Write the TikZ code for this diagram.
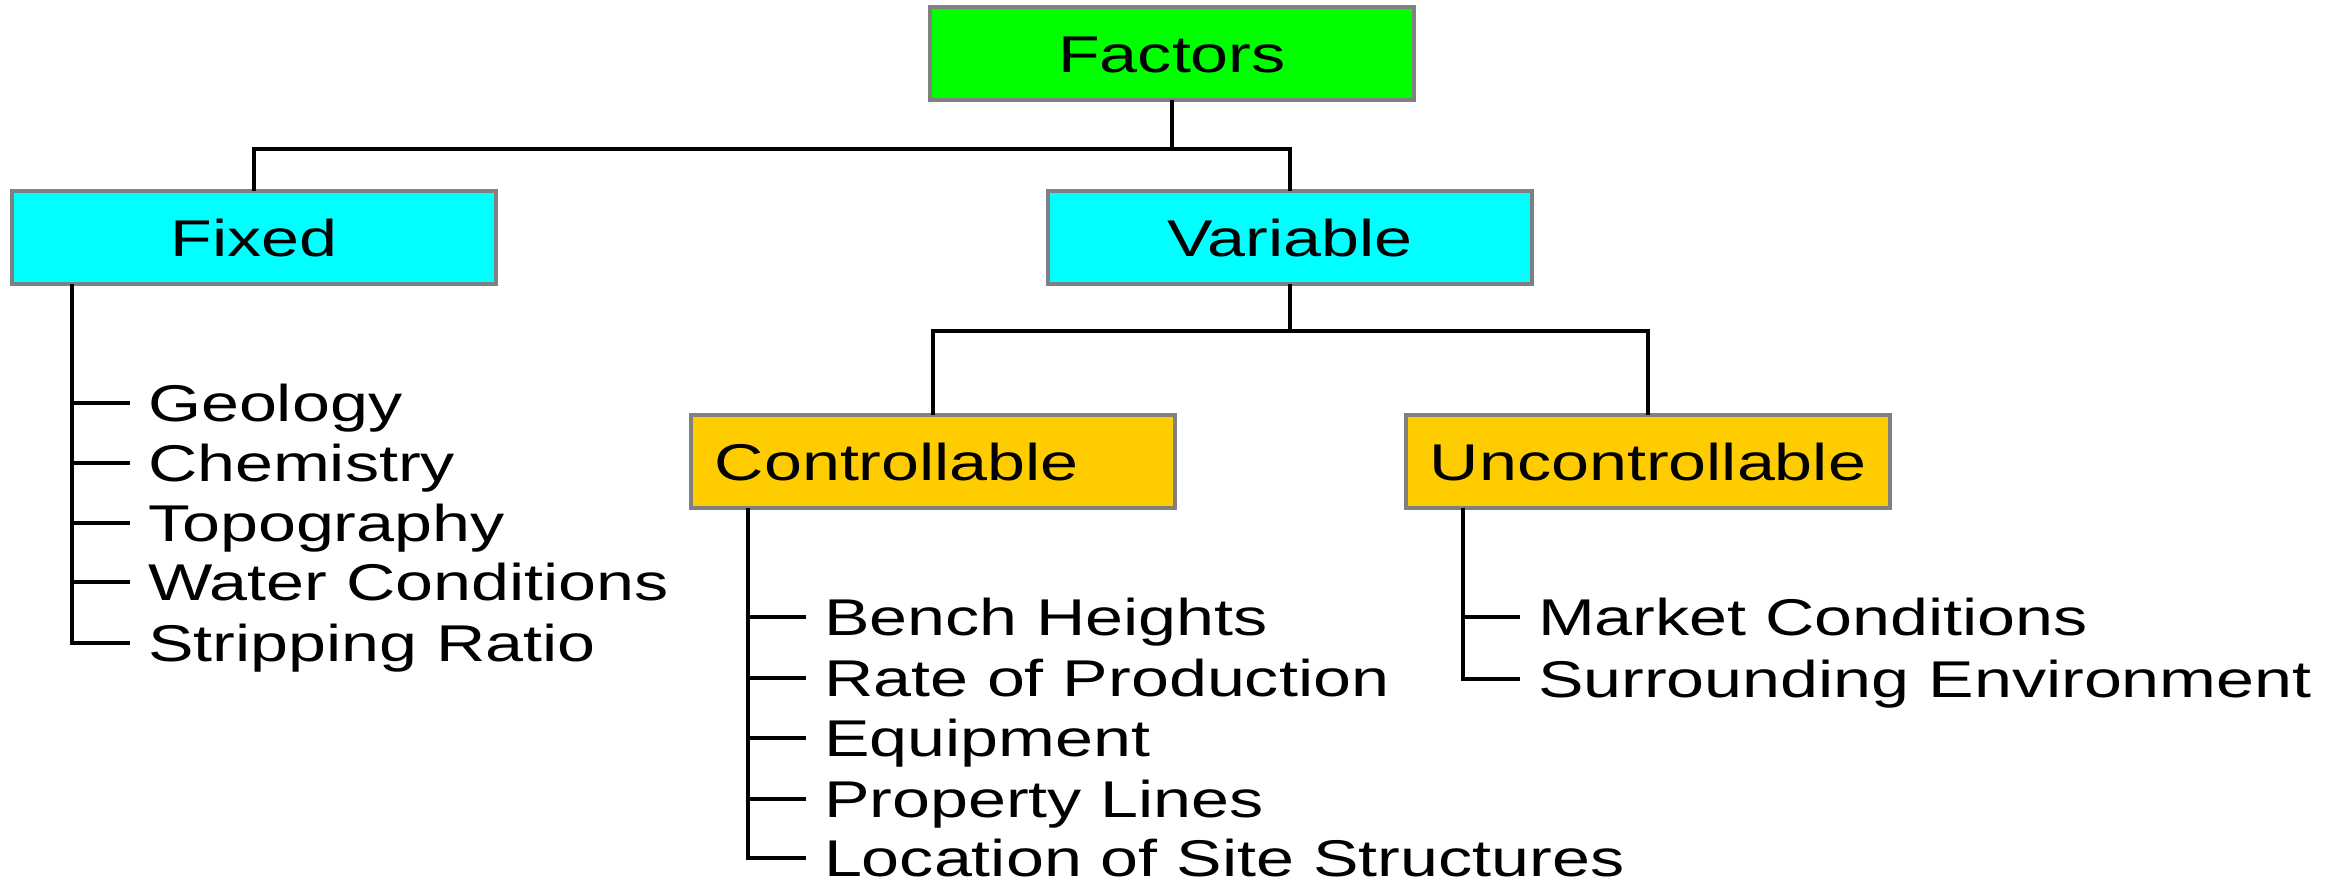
\documentclass[tikz,border=0pt]{standalone}
\usepackage{fontspec}
\setmainfont{Liberation Sans}
\usepackage{graphicx}
\newcommand{\wide}[1]{\scalebox{1.32}[1]{#1}}
\definecolor{boxgray}{HTML}{808080}
\definecolor{topgreen}{HTML}{00FF00}
\definecolor{midcyan}{HTML}{00FFFF}
\definecolor{lowgold}{HTML}{FFCC00}
\begin{document}
\begin{tikzpicture}[x=0.01cm,y=-0.01cm,
 font=\fontsize{14.7}{17}\selectfont,
 box/.style={draw=boxgray, line width=1pt, minimum width=4.84cm, minimum height=0.93cm,
   inner sep=0pt, outer sep=0pt, text height=0.37cm, text depth=0pt},
 leftbox/.style={box, align=left, text width=4.36cm, inner xsep=0.24cm},
 item/.style={anchor=west, inner xsep=0.18cm, inner ysep=0pt, outer sep=0pt,
   text height=0.37cm, text depth=0pt},
 link/.style={line width=0.9pt, black},
]
\useasboundingbox (0,0) rectangle (2341,878);

% boxes
\node[box, fill=topgreen] (factors) at (1172,53.5) {\wide{Factors}};
\node[box, fill=midcyan] (fixed) at (254,237.5) {\wide{Fixed}};
\node[box, fill=midcyan] (variable) at (1290,237.5) {\wide{Variable}};
\node[leftbox, fill=lowgold] (ctrl) at (933,461.5) {\wide{Controllable}};
\node[leftbox, fill=lowgold] (unctrl) at (1648,461.5) {\wide{Uncontrollable}};

% tree connectors
\coordinate (j1) at (1172,149);
\coordinate (j2) at (1290,331);
\draw[link] (factors.south) -- (j1);
\draw[link] (fixed.north) |- (j1) -| (variable.north);
\draw[link] (variable.south) -- (j2);
\draw[link] (ctrl.north) |- (j2) -| (unctrl.north);

% fixed items
\node[item] (f1) at (130,403) {\wide{Geology}};
\node[item] (f2) at (130,463) {\wide{Chemistry}};
\node[item] (f3) at (130,523) {\wide{Topography}};
\node[item] (f4) at (130,582) {\wide{Water Conditions}};
\node[item] (f5) at (130,643) {\wide{Stripping Ratio}};
\coordinate (t1) at (72,284);
\draw[link] (t1) |- (f5.west);
\foreach \n in {f1,f2,f3,f4} \draw[link] (\n.west -| t1) -- (\n.west);

% controllable items
\node[item] (c1) at (806,617) {\wide{Bench Heights}};
\node[item] (c2) at (806,678) {\wide{Rate of Production}};
\node[item] (c3) at (806,738) {\wide{Equipment}};
\node[item] (c4) at (806,799) {\wide{Property Lines}};
\node[item] (c5) at (806,858) {\wide{Location of Site Structures}};
\coordinate (t2) at (748,508);
\draw[link] (t2) |- (c5.west);
\foreach \n in {c1,c2,c3,c4} \draw[link] (\n.west -| t2) -- (\n.west);

% uncontrollable items
\node[item] (u1) at (1520,617) {\wide{Market Conditions}};
\node[item] (u2) at (1520,679) {\wide{Surrounding Environment}};
\coordinate (t3) at (1463,508);
\draw[link] (t3) |- (u2.west);
\draw[link] (u1.west -| t3) -- (u1.west);
\end{tikzpicture}
\end{document}
